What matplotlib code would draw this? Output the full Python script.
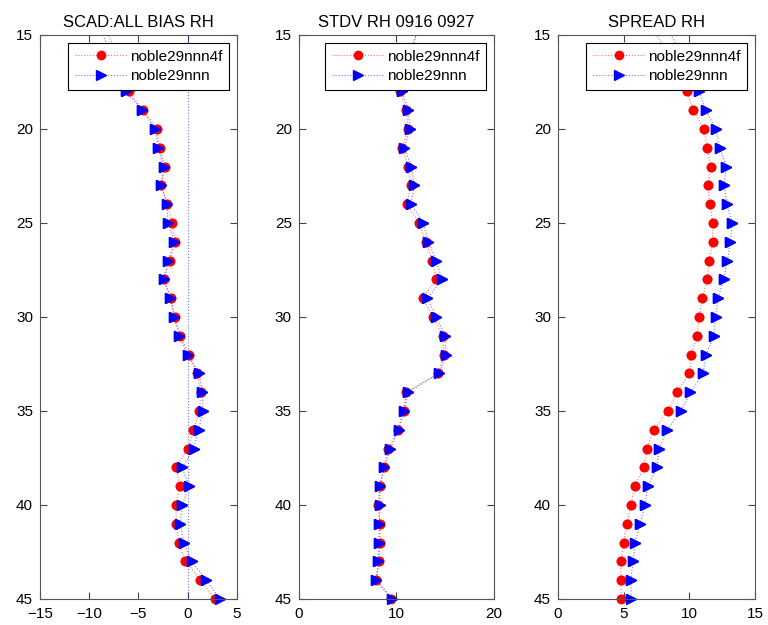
import matplotlib
matplotlib.use("Agg")
import matplotlib.pyplot as plt

plt.rcParams['font.family'] = ['Liberation Sans', 'DejaVu Sans']

# model levels (y axis, reversed); the top two sit above / under the legend
levels = list(range(14, 46))

# SCAD:ALL bias RH
bias_4f = [-8.7, -8.0, -7.3, -6.7, -6.0, -4.5, -3.1, -2.85, -2.3, -2.7, -2.05, -1.6,
           -1.3, -1.8, -2.45, -1.7, -1.33, -0.75, 0.17, 0.95, 1.35, 1.2, 0.58,
           0.03, -1.2, -0.78, -1.2, -1.15, -0.9, -0.23, 1.3, 2.75]
bias_nnn = [-9.4, -8.6, -7.8, -7.0, -6.3, -4.6, -3.3, -3.0, -2.4, -2.7, -2.1, -2.0,
            -1.35, -1.95, -2.45, -1.75, -1.35, -0.85, 0.0, 1.15, 1.5, 1.57, 1.1,
            0.6, -0.55, 0.14, -0.55, -0.75, -0.4, 0.4, 1.9, 3.27]

# STDV RH 0916 0927
stdv_4f = [12.4, 12.0, 11.5, 11.0, 10.4, 11.03, 11.2, 10.6, 11.2, 11.5, 11.07, 12.35,
           13.0, 13.7, 14.1, 12.7, 13.8, 14.76, 14.9, 14.3, 11.03, 10.76, 10.14,
           9.2, 8.76, 8.34, 8.1, 8.34, 8.34, 8.24, 7.9, 9.5]
stdv_nnn = [12.4, 12.0, 11.6, 11.1, 10.6, 11.2, 11.45, 10.8, 11.55, 11.86, 11.5, 12.76,
            13.3, 14.1, 14.7, 13.2, 14.1, 15.03, 15.1, 14.4, 11.17, 10.83, 10.24,
            9.38, 8.76, 8.28, 8.34, 8.24, 8.24, 8.14, 7.96, 9.6]

# SPREAD RH
spread_4f = [6.6, 7.5, 8.4, 9.2, 9.8, 10.3, 11.1, 11.37, 11.63, 11.4, 11.55, 11.78,
             11.78, 11.5, 11.35, 11.0, 10.74, 10.6, 10.15, 9.97, 9.08, 8.37, 7.3,
             6.74, 6.54, 5.83, 5.55, 5.24, 5.0, 4.78, 4.78, 4.83]
spread_nnn = [7.8, 8.6, 9.4, 10.1, 10.74, 11.25, 12.0, 12.34, 12.8, 12.65, 12.85, 13.28,
              13.13, 12.9, 12.6, 12.2, 12.0, 11.86, 11.27, 11.04, 10.08, 9.36, 8.3,
              7.7, 7.53, 6.82, 6.64, 6.23, 5.88, 5.7, 5.55, 5.57]

names = ["noble29nnn4f", "noble29nnn"]
titles = ["SCAD:ALL BIAS RH", "STDV RH 0916 0927", "SPREAD RH"]
xlims = [(-15, 5), (0, 20), (0, 15)]
xticks = [[-15, -10, -5, 0, 5], [0, 10, 20], [0, 5, 10, 15]]
panels = [(bias_4f, bias_nnn), (stdv_4f, stdv_nnn), (spread_4f, spread_nnn)]
lefts = [0.052, 0.389, 0.7266]
widths = [0.2565, 0.254, 0.2565]

# pale dotted connecting lines, solid markers
red_line = (1.0, 0.0, 0.0, 0.55)
blue_line = (0.0, 0.0, 1.0, 0.55)
styles = [dict(marker='o', markersize=6, c='red', line=red_line),
          dict(marker='>', markersize=7, c='blue', line=blue_line)]

fig = plt.figure(figsize=(7.68, 6.25), dpi=100)

for i in range(3):
    ax = fig.add_axes([lefts[i], 0.0416, widths[i], 0.9024])
    for vals, st, name in zip(panels[i], styles, names):
        ax.plot(vals, levels, color=st['line'], linestyle=':', linewidth=0.8,
                marker=st['marker'], markersize=st['markersize'],
                markerfacecolor=st['c'], markeredgecolor=st['c'],
                markevery=slice(2, None), label=name)
        # markers on the bottom level hang past the frame, so draw them unclipped
        ax.plot(vals[2:], levels[2:], linestyle='none', marker=st['marker'],
                markersize=st['markersize'], color=st['c'], clip_on=False)
    if i == 0:
        ax.axvline(0, color=blue_line, linestyle=':', linewidth=0.8)
    ax.set_xlim(*xlims[i])
    ax.set_ylim(45, 15)
    ax.set_xticks(xticks[i])
    ax.set_yticks([15, 20, 25, 30, 35, 40, 45])
    ax.tick_params(direction='in', top=True, right=True, labelsize=11,
                   length=5, width=0.8, color='#444444')
    ax.tick_params(axis='x', pad=6)
    ax.tick_params(axis='y', pad=5)
    for s in ax.spines.values():
        s.set_color('#555555')
        s.set_linewidth(0.8)
    ax.set_title(titles[i], fontsize=12, pad=6)
    leg = ax.legend(loc='upper right', fontsize=11, numpoints=1,
                    handlelength=3.4, fancybox=False, framealpha=1,
                    edgecolor='black', borderpad=0.45, labelspacing=0.35,
                    handletextpad=0.2, borderaxespad=0.5)
    leg.get_frame().set_linewidth(0.8)

fig.savefig("out.png", dpi=100, facecolor='white')
